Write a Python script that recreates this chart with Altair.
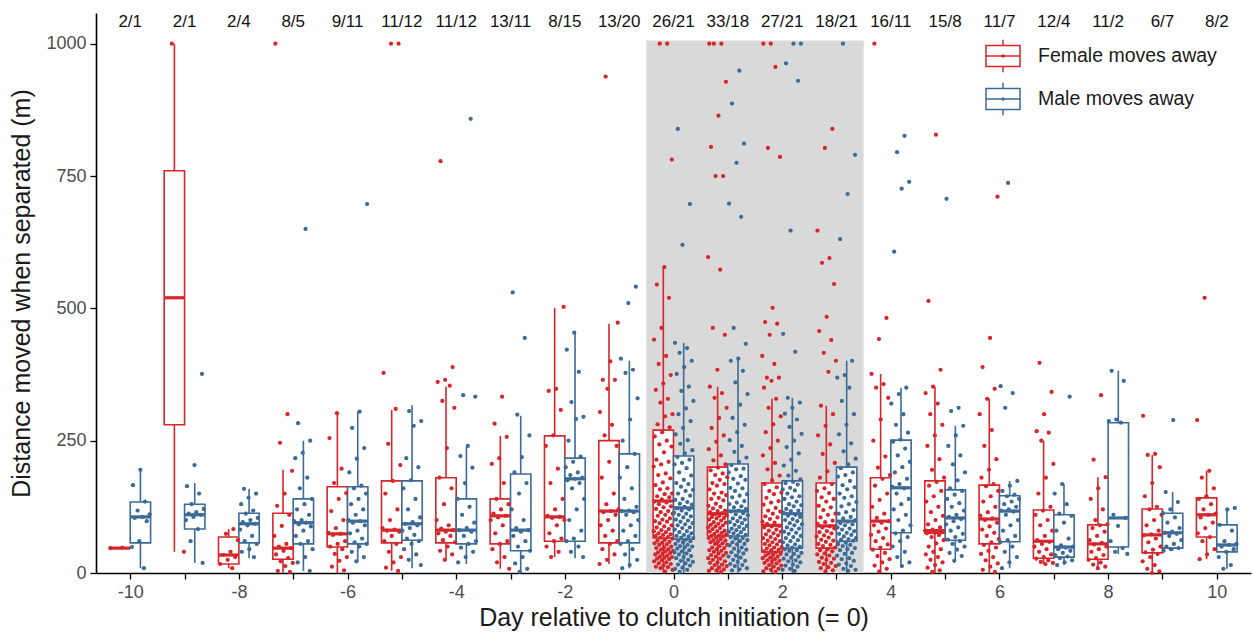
import altair as alt
import pandas as pd

# ---- data -------------------------------------------------------------
DAYS = list(range(-10, 11))
SEXES = ["Female moves away", "Male moves away"]
COLORS = ["#D7262B", "#3B6B96"]

# individuals per day (female / male), printed above each day
F_N = [2, 2, 2, 8, 9, 11, 11, 13, 8, 13, 26, 33, 27, 18, 16, 15, 11, 12, 11, 6, 8]
M_N = [1, 1, 4, 5, 11, 12, 12, 11, 15, 20, 21, 18, 21, 21, 11, 8, 7, 4, 2, 7, 2]

# box statistics per day (whisker low, Q1, median, Q3, whisker high), metres
F_LO  = [47, 40, 9, 0, 0, 4, 23, 8, 30, 17, 0, 0, 0, 0, 0, 0, 0, 17, 9, 0, 26]
F_Q1  = [47, 280, 17, 26, 49, 57, 57, 55, 60, 57, 66, 70, 40, 47, 45, 75, 55, 28, 26, 38, 68]
F_MED = [47, 520, 34, 47, 74, 81, 81, 108, 106, 117, 136, 112, 90, 89, 98, 80, 102, 60, 55, 72, 110]
F_Q3  = [47, 760, 68, 113, 163, 174, 180, 140, 259, 250, 270, 200, 170, 170, 180, 174, 166, 119, 91, 121, 142]
F_HI  = [47, 1000, 83, 195, 302, 308, 352, 259, 501, 471, 578, 352, 329, 316, 376, 352, 329, 250, 181, 223, 193]

M_LO  = [9, 19, 28, 4, 22, 9, 17, 0, 28, 9, 0, 0, 0, 0, 13, 23, 9, 15, 36, 42, 8]
M_Q1  = [57, 83, 57, 55, 55, 62, 55, 42, 60, 57, 64, 70, 47, 60, 76, 62, 59, 30, 49, 47, 40]
M_MED = [106, 110, 93, 95, 98, 93, 81, 81, 178, 117, 123, 117, 112, 98, 161, 104, 117, 49, 104, 76, 53]
M_Q3  = [134, 130, 113, 140, 163, 174, 140, 187, 217, 225, 221, 206, 174, 200, 251, 157, 146, 110, 284, 113, 91]
M_HI  = [193, 170, 159, 250, 305, 317, 238, 297, 454, 401, 435, 405, 331, 401, 350, 278, 174, 168, 382, 153, 123]

# individual distances (m) when the female moved away, by day
F_D_M10 = [47, 48]
F_D_M9 = [1000, 40]
F_D_M8 = [83, 74, 62, 40, 34, 30, 25, 17, 9]
F_D_M7 = [1000, 300, 246, 193, 150, 127, 110, 89, 70, 55, 50, 47, 42, 35, 28, 22, 19, 13, 4, 2]
F_D_M6 = [302, 255, 197, 170, 151, 140, 117, 100, 85, 76, 74, 72, 60, 55, 50, 45, 36, 30, 23, 12, 5]
F_D_M5 = [1000, 1000, 378, 310, 244, 204, 174, 150, 120, 100, 85, 82, 80, 78, 70, 60, 55, 40, 30, 20, 10, 4]
F_D_M4 = [778, 389, 365, 361, 354, 325, 312, 236, 180, 160, 130, 100, 90, 84, 81, 78, 75, 70, 62, 58,
          50, 42, 35, 25]
F_D_M3 = [333, 282, 257, 217, 206, 170, 140, 130, 120, 112, 108, 105, 100, 90, 75, 60, 55, 45, 30, 20, 8]
F_D_M2 = [503, 348, 344, 308, 260, 240, 197, 170, 140, 120, 108, 106, 104, 100, 90, 75, 65, 60, 50, 40, 30]
F_D_M1 = [938, 473, 400, 365, 365, 348, 304, 280, 260, 240, 210, 180, 150, 130, 120, 117, 115, 110, 100,
          90, 80, 70, 60, 55, 45, 35, 25, 17]
F_D_0 = [1000, 1000, 781, 578, 545, 520, 463, 441, 410, 395, 374, 358, 346, 329, 322, 300, 296, 281, 275,
         266, 258, 250, 243, 239, 228, 214, 210, 205, 201, 188, 185, 179, 171, 166, 160, 158, 150, 149,
         145, 143, 139, 135, 133, 130, 126, 124, 121, 117, 115, 112, 110, 108, 103, 101, 98, 97, 94,
         90, 88, 86, 83, 81, 79, 77, 75, 73, 72, 70, 68, 67, 65, 63, 61, 59, 57, 56, 54, 53, 50, 48,
         47, 45, 44, 42, 41, 39, 38, 36, 35, 33, 31, 30, 29, 27, 26, 24, 22, 20, 18, 17, 14, 12, 11,
         9, 6, 3]
F_D_P1 = [1000, 1000, 1000, 928, 864, 805, 750, 750, 597, 573, 463, 450, 384, 352, 340, 331, 312, 293, 274,
          260, 248, 234, 222, 213, 205, 199, 194, 188, 185, 181, 176, 170, 168, 165, 158, 152, 150, 147,
          142, 140, 137, 131, 127, 125, 122, 118, 117, 115, 113, 111, 109, 108, 106, 104, 103, 101, 99,
          96, 95, 93, 91, 90, 88, 86, 85, 83, 80, 79, 78, 76, 74, 73, 71, 70, 69, 67, 66, 64, 62, 61,
          59, 58, 56, 55, 53, 51, 48, 47, 45, 43, 42, 40, 38, 37, 34, 33, 31, 28, 27, 25, 22, 20, 19,
          16, 15, 13, 10, 9, 7, 5, 4, 2]
F_D_P2 = [1000, 1000, 956, 803, 786, 501, 474, 471, 450, 410, 395, 369, 369, 363, 350, 329, 312, 296, 281,
          266, 250, 236, 222, 208, 196, 184, 175, 168, 162, 155, 152, 149, 142, 136, 133, 129, 123,
          118, 116, 112, 107, 105, 102, 97, 95, 93, 89, 88, 86, 82, 80, 78, 75, 73, 71, 68, 66, 64,
          61, 60, 58, 55, 54, 52, 49, 48, 46, 44, 43, 41, 39, 37, 36, 34, 33, 31, 29, 28, 26, 24, 23,
          21, 19, 18, 15, 14, 12, 9, 8, 6, 3, 2]
F_D_P3 = [839, 803, 647, 595, 586, 546, 484, 457, 440, 416, 401, 380, 316, 300, 278, 260, 243, 225, 208,
          192, 180, 168, 160, 155, 151, 143, 140, 135, 127, 124, 119, 112, 110, 105, 99, 96, 93,
          88, 86, 84, 79, 77, 75, 71, 69, 67, 63, 61, 59, 55, 53, 51, 48,
          45, 43, 41, 37, 35, 33, 29, 27, 25, 21, 19, 17, 13, 11, 9, 5, 3]
F_D_P4 = [1000, 482, 442, 376, 357, 350, 331, 290, 250, 220, 199, 185,
          178, 165, 150, 138, 125, 112, 104, 98,
          95, 90, 84, 78, 72, 66, 60, 54, 48,
          44, 38, 32, 26, 20, 14, 8, 3]
F_D_P5 = [828, 514, 384, 352, 340, 320, 300, 280, 260, 240, 215, 195, 180,
          172, 165, 155, 145, 135, 125, 115, 108, 100, 92, 86, 82,
          80, 79, 78, 77, 76, 75,
          72, 68, 62, 56, 50, 45, 40, 35, 30, 25, 20, 15, 10, 5, 2]
F_D_P6 = [711, 444, 389, 348, 329, 300, 270, 240, 215, 195, 180, 168,
          164, 155, 145, 135, 125, 115, 108, 103,
          100, 95, 88, 82, 76, 70, 64, 58,
          53, 48, 42, 36, 30, 24, 18, 12, 6, 2]
F_D_P7 = [397, 342, 300, 268, 265, 250, 206, 180, 150, 125, 118, 110, 100, 90, 80, 70, 62,
          59, 55, 50, 45, 40, 35, 30, 27, 24, 21, 19, 17]
F_D_P8 = [336, 214, 181, 160, 140, 120, 100, 92, 90, 85, 78, 70, 62, 57,
          54, 50, 45, 40, 34, 28, 25, 20, 16, 12, 9]
F_D_P9 = [297, 225, 223, 200, 170, 145, 125, 120, 110, 100, 90, 80, 73,
          71, 65, 58, 50, 44, 39, 36, 30, 22, 15, 8, 3, 0]
F_D_P10 = [520, 289, 193, 180, 160, 145, 140, 130, 120, 112, 110, 105, 95, 85, 75, 68, 60, 45, 35, 26]

# individual distances (m) when the male moved away, by day
M_D_M10 = [195, 166, 135, 118, 111, 106, 104, 98, 60, 49, 9]
M_D_M9 = [376, 204, 164, 150, 130, 121, 115, 112, 110, 106, 100, 83, 60, 19]
M_D_M8 = [159, 150, 142, 130, 118, 112, 104, 100, 96, 93, 90, 82, 70, 60, 55, 45, 40, 30]
M_D_M7 = [650, 283, 250, 227, 217, 180, 160, 140, 130, 120, 110, 100, 98, 95, 92, 88, 80, 70, 60, 55,
          45, 30, 20, 4]
M_D_M6 = [697, 305, 274, 236, 216, 190, 165, 160, 150, 140, 130, 120, 110, 100, 98, 95, 90, 80, 75, 65,
          58, 55, 50, 40, 30, 22]
M_D_M5 = [306, 287, 278, 217, 200, 175, 160, 140, 120, 105, 96, 93, 90, 85, 80, 72, 65, 60, 55, 45, 35, 25, 15]
M_D_M4 = [858, 336, 333, 240, 221, 199, 170, 140, 125, 110, 95, 85, 81, 78, 70, 60, 55, 48, 40, 30, 20]
M_D_M3 = [530, 444, 299, 260, 219, 190, 170, 150, 120, 100, 85, 81, 78, 70, 60, 50, 42, 30, 18, 8, 2]
M_D_M2 = [454, 422, 380, 323, 295, 291, 250, 220, 210, 200, 190, 185, 180, 178, 175, 170, 160, 140, 120,
          100, 80, 65, 60, 50, 40, 30]
M_D_M1 = [541, 510, 405, 384, 378, 330, 290, 250, 225, 200, 180, 160, 140, 125, 118, 117, 115, 110, 100,
          90, 80, 70, 60, 55, 45, 35, 25, 15, 9]
M_D_0 = [839, 697, 620, 435, 425, 416, 401, 389, 376, 352, 344, 325, 311, 300, 287, 274, 262, 251, 244, 232,
         226, 219, 214, 208, 205, 198, 190, 184, 176, 170, 168, 163, 157, 155, 150, 146, 140, 138, 134,
         131, 129, 125, 122, 120, 118, 114, 112, 110, 107, 105, 101, 99, 97, 94, 92, 90, 86, 85, 82,
         79, 77, 75, 72, 70, 69, 67, 66, 63, 61, 60, 58, 55, 53, 51, 50, 48, 46, 43, 41, 39, 37, 35,
         32, 30, 28, 25, 23, 21, 18, 16, 14, 10, 8, 6, 2]
M_D_P1 = [949, 887, 811, 775, 698, 673, 463, 433, 405, 401, 382, 360, 338, 318, 293, 280, 266, 251, 240,
          229, 218, 210, 204, 197, 196, 190, 183, 178, 176, 169, 161, 160, 155, 149, 146, 143, 136,
          133, 130, 126, 124, 121, 118, 116, 113, 111, 109, 105, 103, 101, 98, 96, 94, 91, 89, 87, 84,
          83, 81, 78, 77, 75, 72, 71, 68, 66, 65, 62, 60, 58, 55, 54, 52, 48, 46, 44, 41, 39, 37, 33,
          31, 29, 25, 23, 21, 17, 15, 13, 9, 7, 5]
M_D_P2 = [1000, 1000, 963, 930, 647, 452, 418, 331, 322, 312, 301, 290, 276, 263, 250, 238, 226, 214, 203,
          193, 184, 177, 172, 170, 167, 161, 158, 156, 150, 145, 143, 140, 135, 130, 128, 126, 121,
          118, 117, 114, 110, 108, 106, 102, 100, 98, 94, 92, 90, 86, 84, 82, 78, 76, 74, 70, 68, 66,
          62, 60, 58, 54, 52, 50, 48, 45, 43, 42, 38, 36, 35, 31, 29, 27, 24, 22, 20, 16, 14, 12, 8,
          6, 4]
M_D_P3 = [1000, 790, 716, 631, 401, 374, 369, 350, 325, 300, 280, 262, 245, 230, 216, 205,
          198, 190, 185, 182, 174, 166, 162, 158, 150, 145, 142, 134, 130, 126, 119, 115, 112, 106,
          103, 100, 97, 94, 92, 90, 86, 84, 82, 79, 76, 74, 72, 69, 66, 64, 63, 61,
          58, 55, 53, 51, 47, 45, 43, 38, 36, 33, 28, 26, 23, 18, 16, 13, 8, 6, 4]
M_D_P4 = [826, 795, 739, 726, 607, 350, 338, 320, 300, 280, 265, 252,
          248, 235, 222, 210, 200, 190, 178, 168, 163,
          160, 150, 140, 130, 120, 110, 100, 90, 80,
          75, 68, 60, 50, 40, 30, 20, 13]
M_D_P5 = [707, 312, 306, 278, 260, 240, 222, 205, 190, 175, 160,
          155, 148, 140, 132, 125, 118, 110, 106,
          102, 98, 92, 86, 80, 74, 68, 63,
          60, 55, 50, 44, 38, 32, 23]
M_D_P6 = [737, 353, 340, 312, 174, 165, 155, 148, 145, 140, 135, 130, 125, 120, 118,
          116, 110, 100, 90, 80, 70, 62, 58, 50, 40, 30, 20, 9]
M_D_P7 = [333, 168, 150, 130, 112, 108, 95, 80, 65, 52, 50, 48, 45, 42, 38, 34, 31, 28, 24, 20, 15]
M_D_P8 = [382, 363, 290, 287, 284, 110, 104, 89, 60, 47, 40, 36]
M_D_P9 = [289, 153, 134, 120, 113, 105, 95, 85, 78, 76, 74, 70, 62, 55, 50, 47, 45, 42]
M_D_P10 = [123, 120, 91, 80, 60, 55, 53, 50, 45, 40, 30, 15, 8]

F_PTS = [F_D_M10, F_D_M9, F_D_M8, F_D_M7, F_D_M6, F_D_M5, F_D_M4, F_D_M3, F_D_M2, F_D_M1, F_D_0,
         F_D_P1, F_D_P2, F_D_P3, F_D_P4, F_D_P5, F_D_P6, F_D_P7, F_D_P8, F_D_P9, F_D_P10]
M_PTS = [M_D_M10, M_D_M9, M_D_M8, M_D_M7, M_D_M6, M_D_M5, M_D_M4, M_D_M3, M_D_M2, M_D_M1, M_D_0,
         M_D_P1, M_D_P2, M_D_P3, M_D_P4, M_D_P5, M_D_P6, M_D_P7, M_D_P8, M_D_P9, M_D_P10]

# shaded laying period (days) and its top (m)
SHADE_DAYS = [-0.5, 3.5]
SHADE_TOP = 1006

# ---- layout constants -------------------------------------------------
DODGE = 0.1875       # offset of each sex's box from the day
HALF = 0.1875        # half box width (days)
JITTER = 0.18        # half jitter width (days)
FONT = "Liberation Sans"

# ---- tables -----------------------------------------------------------
box_rows, whisk_rows, pt_rows = [], [], []
for k, day in enumerate(DAYS):
    groups = (
        (SEXES[0], COLORS[0], -DODGE, F_LO[k], F_Q1[k], F_MED[k], F_Q3[k], F_HI[k], F_PTS[k], 0.0),
        (SEXES[1], COLORS[1], DODGE, M_LO[k], M_Q1[k], M_MED[k], M_Q3[k], M_HI[k], M_PTS[k], 0.5),
    )
    for sex, col, shift, lo, q1, med, q3, hi, pts, seed in groups:
        c = day + shift
        box_rows.append(dict(sex=sex, left=c - HALF, right=c + HALF, q1=q1, med=med, q3=q3))
        whisk_rows.append(dict(sex=sex, xc=c, ya=lo, yb=q1))
        whisk_rows.append(dict(sex=sex, xc=c, ya=q3, yb=hi))
        for i, v in enumerate(pts):
            frac = (i * 0.618034 + k * 0.37 + seed) % 1.0
            pt_rows.append(dict(col=col, value=v, xpos=c + (frac - 0.5) * 2 * JITTER))

boxes = pd.DataFrame(box_rows)
whiskers = pd.DataFrame(whisk_rows)
points = pd.DataFrame(pt_rows)
counts = pd.DataFrame(dict(day=DAYS, label=[f"{f}/{m}" for f, m in zip(F_N, M_N)]))
shade = pd.DataFrame(dict(x0=[SHADE_DAYS[0]], x1=[SHADE_DAYS[1]], y0=[0], y1=[SHADE_TOP]))

# ---- scales and axes --------------------------------------------------
xs = alt.Scale(domain=[-10.63, 10.63], nice=False, zero=False)
ys = alt.Scale(domain=[0, 1058], nice=False, zero=False)
col_scale = alt.Scale(domain=SEXES, range=COLORS)

X_TITLE = "Day relative to clutch initiation (= 0)"
Y_TITLE = "Distance moved when separated (m)"
x_axis = alt.Axis(values=DAYS, labelExpr="datum.value % 2 == 0 ? '' + datum.value : ''",
                  grid=False, tickSize=6, labelPadding=4, titlePadding=4)
y_axis = alt.Axis(values=[0, 250, 500, 750, 1000], format="d", grid=False,
                  tickSize=6, labelPadding=4, titlePadding=11)

BOX_ICON = ("M-1,-0.62H1V0.62H-1Z M-1,0H1 M0,-0.62V-0.95 M0,0.62V0.95 "
            "M-0.06,0A0.06,0.06 0 1,0 0.06,0A0.06,0.06 0 1,0 -0.06,0")
legend = alt.Legend(title=None, orient="none", legendX=889, legendY=25,
                    symbolType=BOX_ICON, symbolSize=1156, symbolStrokeWidth=1.5,
                    symbolFillColor="white", labelFontSize=19.5, labelFont=FONT,
                    labelColor="#1a1a1a", labelOffset=17, rowPadding=3, padding=0,
                    labelLimit=300)
stroke = alt.Stroke("sex:N", scale=col_scale, legend=legend)


def X(field):
    return alt.X(f"{field}:Q", scale=xs, axis=x_axis, title=X_TITLE)


def Y(field):
    return alt.Y(f"{field}:Q", scale=ys, axis=y_axis, title=Y_TITLE)


# ---- layers -----------------------------------------------------------
shade_layer = alt.Chart(shade).mark_rect(color="#d9d9d9").encode(
    x=X("x0"), x2="x1", y=Y("y0"), y2="y1")

whisker_layer = alt.Chart(whiskers).mark_rule(strokeWidth=1.6).encode(
    x=X("xc"), y=Y("ya"), y2="yb", stroke=stroke)

box_layer = alt.Chart(boxes).mark_rect(fill="white", strokeWidth=1.6).encode(
    x=X("left"), x2="right", y=Y("q1"), y2="q3", stroke=stroke)

median_layer = alt.Chart(boxes).mark_rule(strokeWidth=3.2).encode(
    x=X("left"), x2="right", y=Y("med"), stroke=stroke)

point_layer = alt.Chart(points).mark_circle(size=18, opacity=1).encode(
    x=X("xpos"), y=Y("value"),
    color=alt.Color("col:N", scale=None))

count_layer = alt.Chart(counts).mark_text(fontSize=17, font=FONT, color="#111111",
                                          baseline="middle").encode(
    x=X("day"), y=alt.value(9), text="label:N")

chart = alt.layer(
    shade_layer, whisker_layer, box_layer, median_layer, point_layer, count_layer
).properties(
    width=1155, height=560,
    autosize=alt.AutoSizeParams(type="none"),
    padding={"left": 96, "top": 13, "right": 2, "bottom": 62},
    background="white",
).configure_view(
    stroke=None
).configure_axis(
    domainColor="#000000", domainWidth=1.6, tickColor="#000000", tickWidth=1.3,
    labelFont=FONT, labelFontSize=18, labelColor="#4d4d4d",
    titleFont=FONT, titleFontSize=25, titleFontWeight="normal", titleColor="#1a1a1a",
)

chart.save("out.html", embed_options={"renderer": "svg", "actions": False})
